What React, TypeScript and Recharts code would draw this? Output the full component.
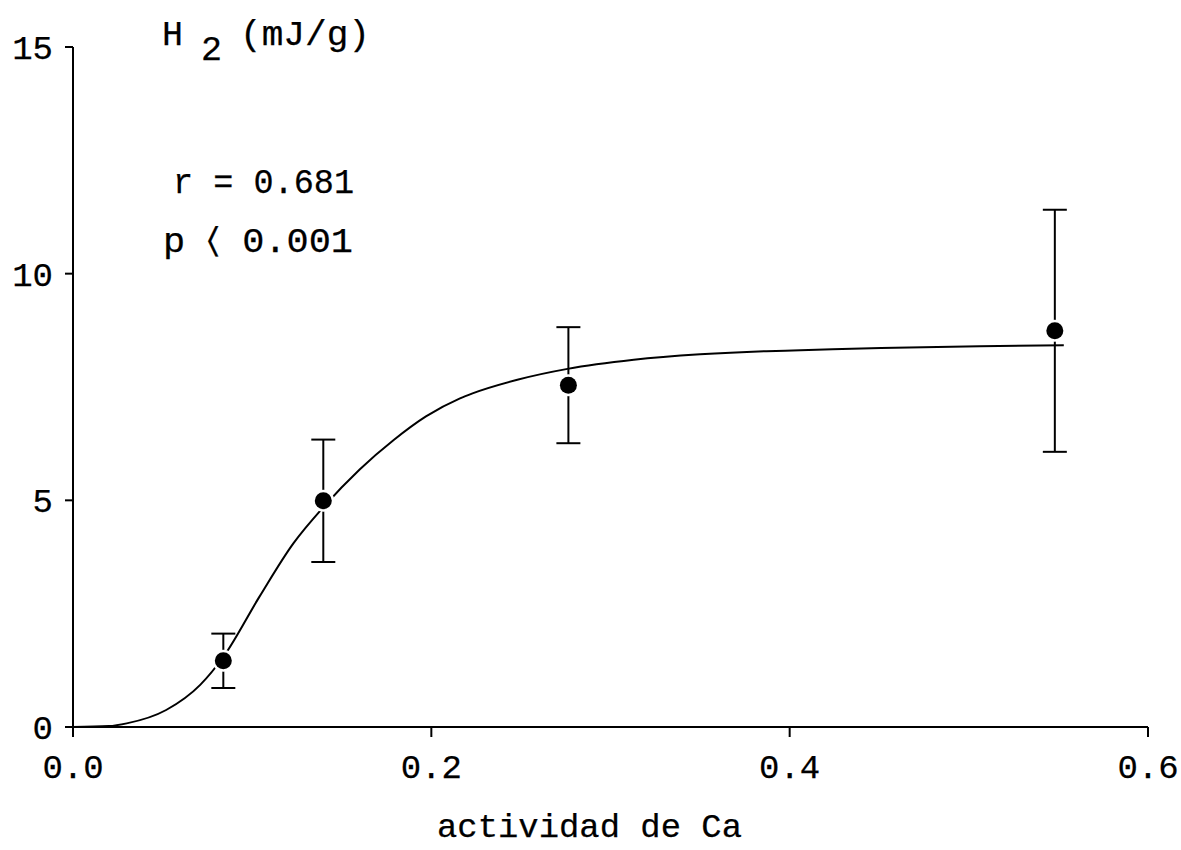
import React from "react";
import {
  ComposedChart,
  Line,
  Scatter,
  ErrorBar,
  XAxis,
  YAxis,
} from "recharts";

// Fitted curve
const curveX = [0, 0.02, 0.03, 0.052, 0.071, 0.084, 0.104, 0.123, 0.14, 0.16, 0.179, 0.197, 0.216, 0.223, 0.248, 0.276, 0.313, 0.35, 0.387, 0.406, 0.451, 0.506, 0.553];
const curveY = [0, 0.02, 0.08, 0.375, 0.93, 1.55, 2.87, 4.05, 4.86, 5.68, 6.33, 6.85, 7.25, 7.36, 7.66, 7.9, 8.1, 8.22, 8.29, 8.31, 8.36, 8.4, 8.42];

// Measured points with error bars
const pointX = [0.0839, 0.1397, 0.2765, 0.548];
const pointY = [1.46, 4.99, 7.54, 8.74];
const pointErr = [0.6, 1.35, 1.28, 2.67];

const xTicks = [0, 0.2, 0.4, 0.6];
const yTicks = [0, 5, 10, 15];

const xLabel = "actividad de Ca";
const titleMain = "H";
const titleSub = "2";
const titleUnit = "(mJ/g)";
const statR = "r = 0.681";
const statP = "p \u2329 0.001";

const curve = curveX.map((x, i) => ({ x, y: curveY[i] }));
const points = pointX.map((x, i) => ({ x, y: pointY[i], err: pointErr[i] }));

const FONT = "'Liberation Mono', 'DejaVu Sans Mono', monospace";

const Dot = (props: any) => {
  const { cx, cy } = props;
  if (cx == null || cy == null) return null;
  return (
    <g>
      <circle cx={cx} cy={cy} r={11} fill="#fff" />
      <circle cx={cx} cy={cy} r={8.5} fill="#000" />
    </g>
  );
};

const tickStyle = {
  fontFamily: FONT,
  fontSize: 34,
  fill: "#000",
  stroke: "#000",
  strokeWidth: 0.25,
};

export default function App() {
  return (
    <div style={{ position: "absolute", left: 0, top: 0, width: 1181, height: 850, background: "#fff" }}>
      <ComposedChart
        width={1181}
        height={850}
        margin={{ top: 47, right: 33, bottom: 63, left: 0 }}
      >
        <XAxis
          dataKey="x"
          type="number"
          domain={[0, 0.6]}
          ticks={xTicks}
          tickFormatter={(v: number) => v.toFixed(1)}
          height={60}
          tickSize={10}
          tickMargin={17}
          tick={tickStyle}
          axisLine={{ stroke: "#000", strokeWidth: 2 }}
          tickLine={{ stroke: "#000", strokeWidth: 2 }}
          allowDataOverflow
        />
        <YAxis
          dataKey="y"
          type="number"
          domain={[0, 15]}
          ticks={yTicks}
          width={73}
          tickSize={8}
          tickMargin={12}
          tick={tickStyle}
          axisLine={{ stroke: "#000", strokeWidth: 2 }}
          tickLine={{ stroke: "#000", strokeWidth: 2 }}
          allowDataOverflow
        />
        <Line
          data={curve}
          dataKey="y"
          type="monotone"
          stroke="#000"
          strokeWidth={2}
          dot={false}
          activeDot={false}
          isAnimationActive={false}
        />
        <Scatter
          data={points}
          dataKey="y"
          fill="#000"
          shape={<Dot />}
          isAnimationActive={false}
        >
          <ErrorBar
            dataKey="err"
            direction="y"
            width={12}
            stroke="#000"
            strokeWidth={2}
            isAnimationActive={false}
          />
        </Scatter>
      </ComposedChart>
      <svg
        width={1181}
        height={850}
        style={{ position: "absolute", left: 0, top: 0, pointerEvents: "none" }}
      >
        <g fontFamily={FONT} fontSize={35} fill="#000" stroke="#000" strokeWidth={0.25}>
          <text x={162} y={45}>{titleMain}</text>
          <text x={201} y={60}>{titleSub}</text>
          <text x={240} y={45} textLength={130} lengthAdjust="spacingAndGlyphs">{titleUnit}</text>
          <text x={173} y={193} textLength={181} lengthAdjust="spacingAndGlyphs">{statR}</text>
          <text x={163} y={252} textLength={190} lengthAdjust="spacingAndGlyphs">{statP}</text>
        </g>
        <text
          x={437}
          y={837}
          fontFamily={FONT}
          fontSize={34}
          fill="#000"
          stroke="#000"
          strokeWidth={0.25}
          textLength={305}
          lengthAdjust="spacingAndGlyphs"
        >
          {xLabel}
        </text>
      </svg>
    </div>
  );
}
